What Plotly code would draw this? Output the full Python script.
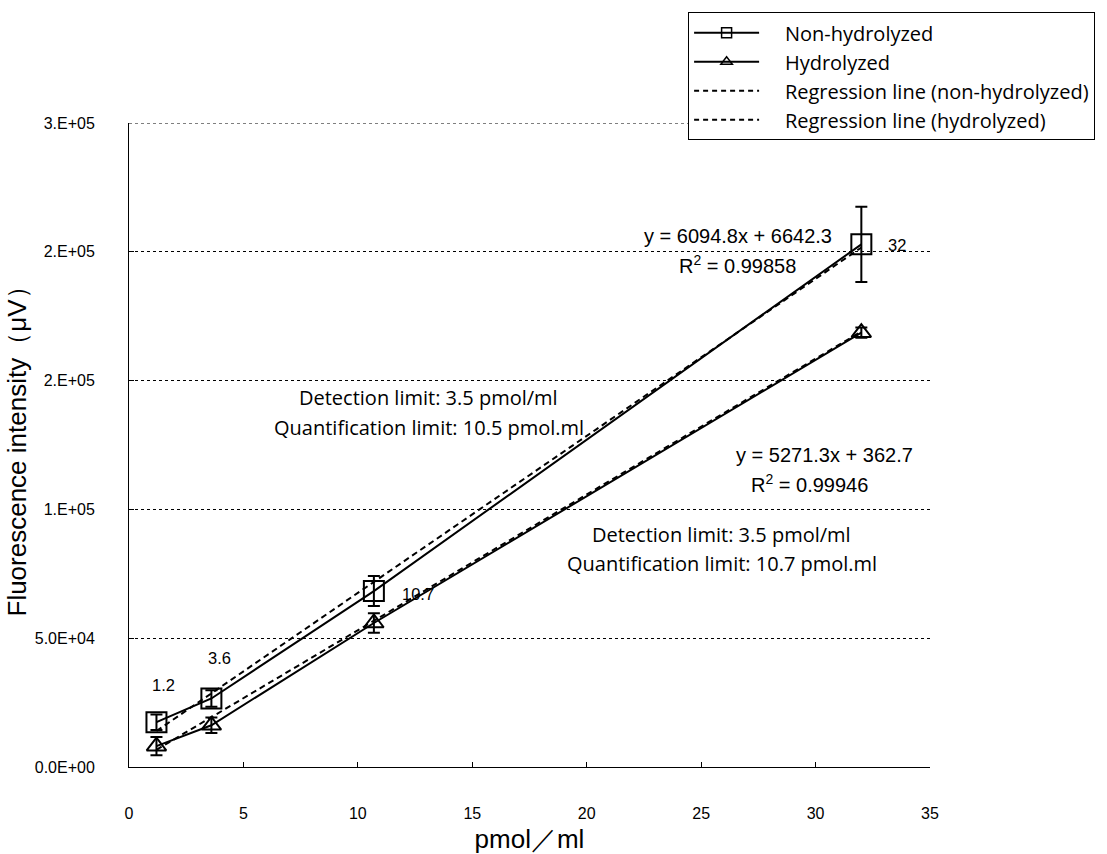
import plotly.graph_objects as go

# ---- data ----
conc = [1.2, 3.6, 10.7, 32]
non_hydrolyzed = [17400, 26600, 68300, 202900]
non_hydrolyzed_err = [3000, 3200, 5800, 14600]
hydrolyzed = [8100, 16200, 55900, 168600]
hydrolyzed_err = [3500, 3000, 3800, 2000]
# regression lines (values shown by chart's trendlines at the data x-values)
reg_non = [13956, 28584, 71857, 201676]
reg_hyd = [6688, 19339, 56764, 169044]

x_ticks = [0, 5, 10, 15, 20, 25, 30, 35]
y_ticks = [0, 50000, 100000, 150000, 200000, 250000]
y_ticktext = ["0.0E+00", "5.0E+04", "1.E+05", "2.E+05", "2.E+05", "3.E+05"]

legend_names = ["Non-hydrolyzed", "Hydrolyzed",
                "Regression line (non-hydrolyzed)", "Regression line (hydrolyzed)"]

LAB = "Liberation Sans"
MYR = "Open Sans"
PAD = "\u00a0" * 4

fig = go.Figure()

# regression lines
fig.add_trace(go.Scatter(x=conc, y=reg_non, mode="lines",
                         line=dict(color="black", width=2, dash="6px,4px"),
                         showlegend=False, hoverinfo="skip"))
fig.add_trace(go.Scatter(x=conc, y=reg_hyd, mode="lines",
                         line=dict(color="black", width=2, dash="6px,4px"),
                         showlegend=False, hoverinfo="skip"))

# data series
fig.add_trace(go.Scatter(x=conc, y=non_hydrolyzed, mode="lines+markers",
                         line=dict(color="black", width=2),
                         marker=dict(symbol="square-open", size=20, color="black",
                                     line=dict(width=2, color="black")),
                         error_y=dict(type="data", array=non_hydrolyzed_err,
                                      color="black", thickness=2, width=6),
                         showlegend=False))
fig.add_trace(go.Scatter(x=conc, y=hydrolyzed, mode="lines+markers",
                         line=dict(color="black", width=2),
                         marker=dict(symbol="triangle-up-open", size=17, color="black",
                                     line=dict(width=2, color="black")),
                         error_y=dict(type="data", array=hydrolyzed_err,
                                      color="black", thickness=2, width=6),
                         showlegend=False))

# legend entries
fig.add_trace(go.Scatter(x=[None], y=[None], mode="lines+markers", name=PAD + legend_names[0],
                         line=dict(color="black", width=2),
                         marker=dict(symbol="square-open", size=10, color="black",
                                     line=dict(width=1.5)), legendgroup="a"))
fig.add_trace(go.Scatter(x=[None], y=[None], mode="lines+markers", name=PAD + legend_names[1],
                         line=dict(color="black", width=2),
                         marker=dict(symbol="triangle-up-open", size=10, color="black",
                                     line=dict(width=1.5)), legendgroup="b"))
fig.add_trace(go.Scatter(x=[None], y=[None], mode="lines", name=PAD + legend_names[2],
                         line=dict(color="black", width=2, dash="5px,4px"), legendgroup="c"))
fig.add_trace(go.Scatter(x=[None], y=[None], mode="lines", name=PAD + legend_names[3],
                         line=dict(color="black", width=2, dash="5px,4px"), legendgroup="d"))

annotations = []
# x-value data labels
label_shift = [(7, 37), (8, 40), (44, -3), (36, -1)]
for xv, yv, (dx, dy) in zip(conc, non_hydrolyzed, label_shift):
    annotations.append(dict(x=xv, y=yv, xref="x", yref="y", text=f"{xv:g}",
                            showarrow=False, xshift=dx, yshift=dy,
                            font=dict(family=LAB, size=16.5, color="black")))

texts = [
    ("y = 6094.8x + 6642.3", 26.62, 206020, LAB, 20),
    ("R<sup>2</sup> = 0.99858", 26.58, 195215, LAB, 20),
    ("Detection limit: 3.5 pmol/ml", 13.1, 143518, MYR, 20),
    ("Quantification limit: 10.5 pmol.ml", 13.1, 131944, MYR, 20),
    ("y = 5271.3x + 362.7", 30.37, 121141, LAB, 20),
    ("R<sup>2</sup> = 0.99946", 29.72, 109953, LAB, 20),
    ("Detection limit: 3.5 pmol/ml", 25.9, 90277, MYR, 20),
    ("Quantification limit: 10.7 pmol.ml", 25.9, 79089, MYR, 20),
]
for t, xv, yv, fam, sz in texts:
    annotations.append(dict(x=xv, y=yv, xref="x", yref="y", text=t, showarrow=False,
                            font=dict(family=fam, size=sz, color="black")))

fig.update_layout(
    width=1107, height=854,
    margin=dict(l=129, r=176, t=119, b=87),
    paper_bgcolor="white", plot_bgcolor="white",
    font=dict(family=LAB, color="black"),
    annotations=annotations,
    shapes=[dict(type="line", xref="paper", yref="y", x0=0, x1=1,
                 y0=y_ticks[-1], y1=y_ticks[-1], layer="below",
                 line=dict(color="black", width=1, dash="dot"))],
    legend=dict(x=0.698, y=1.172, xanchor="left", yanchor="top",
                bordercolor="black", borderwidth=1, bgcolor="white",
                font=dict(family=MYR, size=20, color="black"),
                tracegroupgap=0, traceorder="grouped", itemwidth=65),
    xaxis=dict(range=[0, 35], tickvals=x_ticks, ticks="inside", ticklen=5,
               tickcolor="black", showline=True, linecolor="black", linewidth=1,
               showgrid=False, zeroline=False, automargin=False,
               tickfont=dict(family=LAB, size=16), ticklabelstandoff=32,
               title=dict(text="pmol／ml", font=dict(family=LAB, size=26), standoff=8)),
    yaxis=dict(range=[0, 250000], tickvals=y_ticks, ticktext=y_ticktext,
               ticks="inside", ticklen=5, tickcolor="black",
               showline=True, linecolor="black", linewidth=1,
               showgrid=True, gridcolor="black", griddash="dot", gridwidth=1,
               zeroline=False, automargin=False,
               tickfont=dict(family=LAB, size=16), ticklabelstandoff=30,
               title=dict(text="Fluorescence intensity（μV）",
                          font=dict(family=LAB, size=26), standoff=0)),
)

fig.write_html("out.html")
